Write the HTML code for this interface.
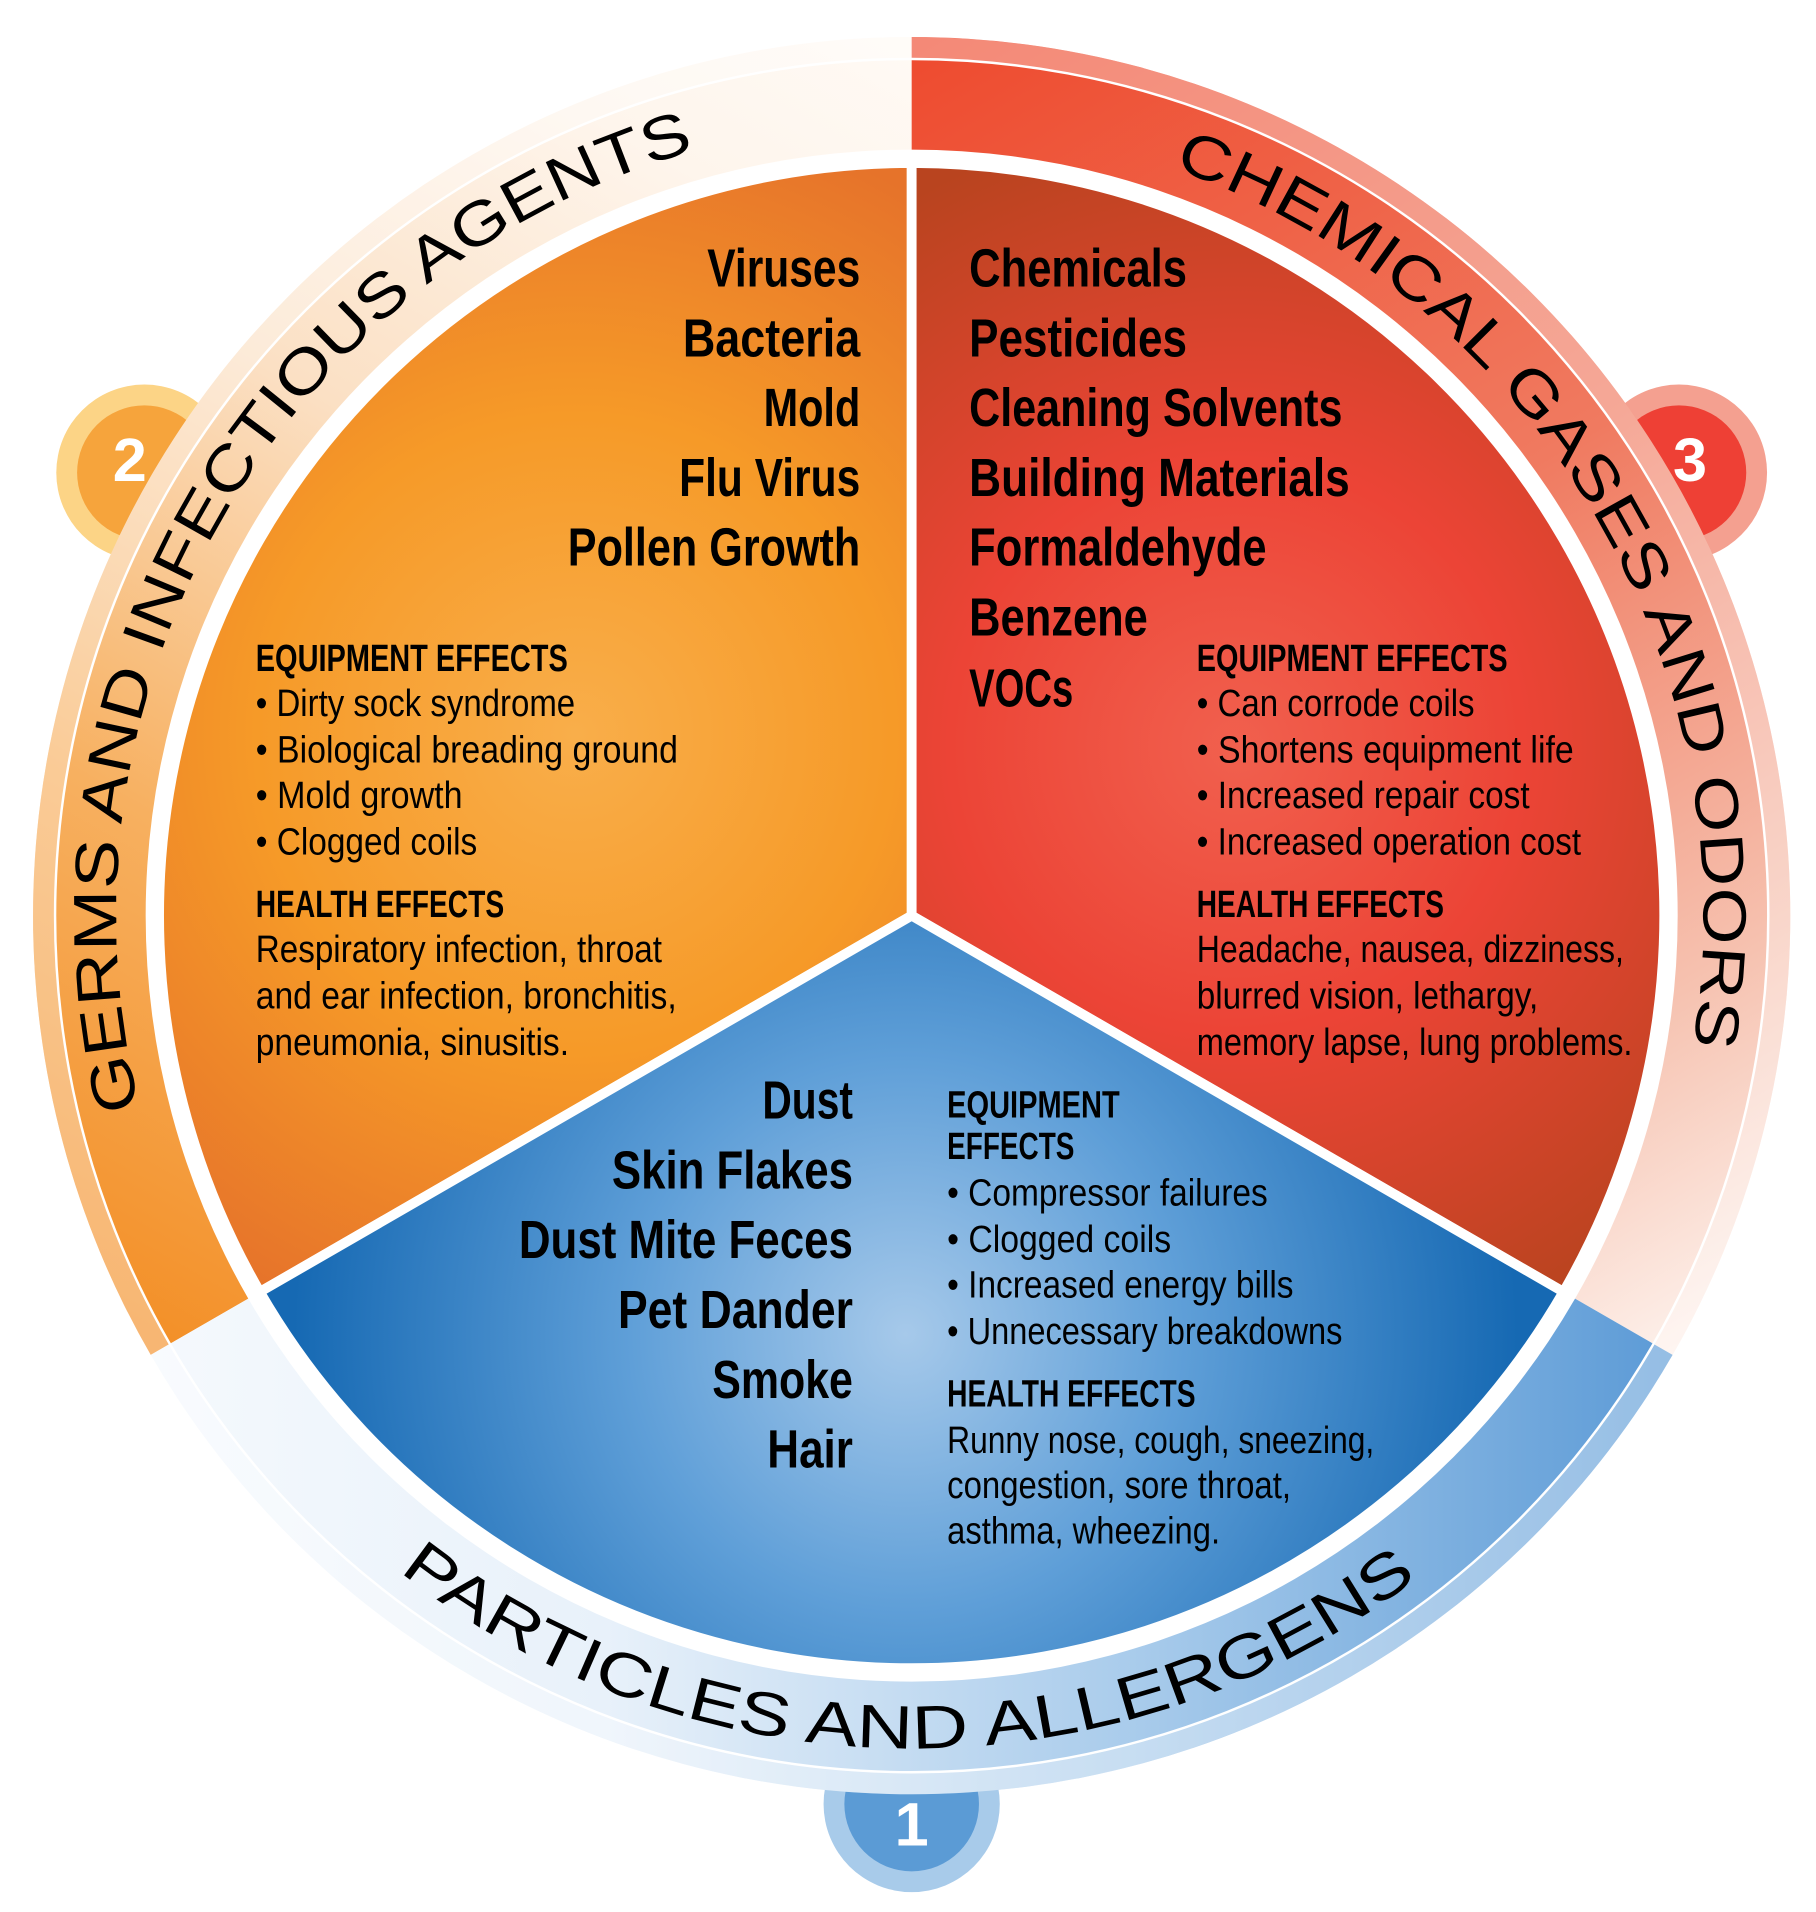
<!DOCTYPE html>
<html><head><meta charset="utf-8"><style>
html,body{margin:0;padding:0;background:#fff;}
svg{display:block;}
.b{font-family:"Liberation Sans Narrow","Liberation Sans",sans-serif;font-weight:bold;fill:#000;}
.r{font-family:"Liberation Sans Narrow","Liberation Sans",sans-serif;fill:#000;}
.ring{font-family:"Liberation Sans",sans-serif;font-size:50px;fill:#000;}
.num{font-family:"Liberation Sans",sans-serif;font-weight:bold;font-size:50px;fill:#fff;}
</style></head><body>
<svg width="1816" height="1912" viewBox="0 0 1484 1562" xmlns="http://www.w3.org/2000/svg">
<defs>
<radialGradient id="gO" gradientUnits="userSpaceOnUse" cx="470" cy="600" r="520">
<stop offset="0" stop-color="#f9ae4a"/><stop offset="0.5" stop-color="#f69a28"/><stop offset="1" stop-color="#e6732a"/></radialGradient>
<radialGradient id="gR" gradientUnits="userSpaceOnUse" cx="1010" cy="610" r="520">
<stop offset="0" stop-color="#f1604e"/><stop offset="0.45" stop-color="#ec4436"/><stop offset="1" stop-color="#b9441f"/></radialGradient>
<radialGradient id="gB" gradientUnits="userSpaceOnUse" cx="740" cy="1090" r="500">
<stop offset="0" stop-color="#a6c9ea"/><stop offset="0.45" stop-color="#5f9fd8"/><stop offset="1" stop-color="#1669b3"/></radialGradient>
<linearGradient id="lO" gradientUnits="userSpaceOnUse" x1="140" y1="1100" x2="745" y2="30">
<stop offset="0" stop-color="#f39028"/><stop offset="0.3" stop-color="#f7b060"/><stop offset="0.6" stop-color="#fbe0c4"/><stop offset="0.85" stop-color="#fef5ec"/><stop offset="1" stop-color="#fffaf5"/></linearGradient>
<linearGradient id="lR" gradientUnits="userSpaceOnUse" x1="745" y1="30" x2="1370" y2="1100">
<stop offset="0" stop-color="#ee4a2e"/><stop offset="0.45" stop-color="#f07a60"/><stop offset="0.8" stop-color="#f6c2b0"/><stop offset="1" stop-color="#fdf0ea"/></linearGradient>
<linearGradient id="lB" gradientUnits="userSpaceOnUse" x1="1370" y1="1100" x2="120" y2="1100">
<stop offset="0" stop-color="#5b9ad6"/><stop offset="0.35" stop-color="#a8cbeb"/><stop offset="0.7" stop-color="#e8f1fa"/><stop offset="1" stop-color="#f5f9fd"/></linearGradient>
<path id="pG" d="M 114.3 905.2 A 650 650 0 0 1 571.3 121.7"/>
<path id="pC" d="M 958.8 137.4 A 647 647 0 0 1 1382.8 857"/>
<path id="pP" d="M 326.3 1284 A 681 681 0 0 0 1159.6 1288.3"/>
</defs>

<circle cx="118" cy="386" r="72" fill="#fcd486"/><circle cx="118" cy="386" r="55" fill="#f6a43c"/>
<circle cx="1372" cy="386" r="72" fill="#f4a090"/><circle cx="1372" cy="386" r="55" fill="#ee4035"/>
<circle cx="745" cy="1474" r="72" fill="#a8cbea"/><circle cx="745" cy="1474" r="55" fill="#5b9bd5"/>

<path d="M 123.2 1107 A 718 718 0 0 1 745 30 L 745 122 A 626 626 0 0 0 202.9 1061 Z" fill="url(#lO)"/>
<path d="M 745 30 A 718 718 0 0 1 1366.8 1107 L 1287.1 1061 A 626 626 0 0 0 745 122 Z" fill="url(#lR)"/>
<path d="M 1366.8 1107 A 718 718 0 0 1 123.2 1107 L 202.9 1061 A 626 626 0 0 0 1287.1 1061 Z" fill="url(#lB)"/>
<circle cx="745" cy="748" r="709" fill="none" stroke="#fff" stroke-opacity="0.35" stroke-width="18"/>
<circle cx="745" cy="748" r="700" fill="none" stroke="#fff" stroke-width="2"/>

<text class="num" x="106" y="393" text-anchor="middle">2</text>
<text class="num" x="1381" y="393" text-anchor="middle">3</text>
<text class="num" x="745" y="1508" text-anchor="middle">1</text>

<path d="M 745 748 L 212.4 1055.5 A 615 615 0 0 1 745 133 Z" fill="url(#gO)" stroke="#fff" stroke-width="8" stroke-linejoin="round"/>
<path d="M 745 748 L 745 133 A 615 615 0 0 1 1277.6 1055.5 Z" fill="url(#gR)" stroke="#fff" stroke-width="8" stroke-linejoin="round"/>
<path d="M 745 748 L 1277.6 1055.5 A 615 615 0 0 1 212.4 1055.5 Z" fill="url(#gB)" stroke="#fff" stroke-width="8" stroke-linejoin="round"/>

<text class="ring"><textPath href="#pG" textLength="1000" lengthAdjust="spacingAndGlyphs">GERMS AND INFECTIOUS AGENTS</textPath></text>
<text class="ring"><textPath href="#pC" textLength="905" lengthAdjust="spacingAndGlyphs">CHEMICAL GASES AND ODORS</textPath></text>
<text class="ring"><textPath href="#pP" textLength="895" lengthAdjust="spacingAndGlyphs">PARTICLES AND ALLERGENS</textPath></text>

<g transform="translate(0,-3)">
<g class="b" font-size="44">
<text x="578" y="237" textLength="125" lengthAdjust="spacingAndGlyphs">Viruses</text>
<text x="558" y="294" textLength="145" lengthAdjust="spacingAndGlyphs">Bacteria</text>
<text x="624" y="351" textLength="79" lengthAdjust="spacingAndGlyphs">Mold</text>
<text x="555" y="408" textLength="148" lengthAdjust="spacingAndGlyphs">Flu Virus</text>
<text x="464" y="465" textLength="239" lengthAdjust="spacingAndGlyphs">Pollen Growth</text>
</g>
<g font-size="31">
<text class="b" x="209" y="551" textLength="255" lengthAdjust="spacingAndGlyphs">EQUIPMENT EFFECTS</text>
<text class="r" x="209" y="588" textLength="261" lengthAdjust="spacingAndGlyphs">• Dirty sock syndrome</text>
<text class="r" x="209" y="626" textLength="345" lengthAdjust="spacingAndGlyphs">• Biological breading ground</text>
<text class="r" x="209" y="663" textLength="169" lengthAdjust="spacingAndGlyphs">• Mold growth</text>
<text class="r" x="209" y="701" textLength="181" lengthAdjust="spacingAndGlyphs">• Clogged coils</text>
<text class="b" x="209" y="752" textLength="203" lengthAdjust="spacingAndGlyphs">HEALTH EFFECTS</text>
<text class="r" x="209" y="789" textLength="332" lengthAdjust="spacingAndGlyphs">Respiratory infection, throat</text>
<text class="r" x="209" y="827" textLength="344" lengthAdjust="spacingAndGlyphs">and ear infection, bronchitis,</text>
<text class="r" x="209" y="865" textLength="256" lengthAdjust="spacingAndGlyphs">pneumonia, sinusitis.</text>
</g>

<g class="b" font-size="44">
<text x="792" y="237" textLength="178" lengthAdjust="spacingAndGlyphs">Chemicals</text>
<text x="792" y="294" textLength="178" lengthAdjust="spacingAndGlyphs">Pesticides</text>
<text x="792" y="351" textLength="305" lengthAdjust="spacingAndGlyphs">Cleaning Solvents</text>
<text x="792" y="408" textLength="311" lengthAdjust="spacingAndGlyphs">Building Materials</text>
<text x="792" y="465" textLength="243" lengthAdjust="spacingAndGlyphs">Formaldehyde</text>
<text x="792" y="522" textLength="146" lengthAdjust="spacingAndGlyphs">Benzene</text>
<text x="792" y="580" textLength="85" lengthAdjust="spacingAndGlyphs">VOCs</text>
</g>
<g font-size="31">
<text class="b" x="978" y="551" textLength="254" lengthAdjust="spacingAndGlyphs">EQUIPMENT EFFECTS</text>
<text class="r" x="978" y="588" textLength="227" lengthAdjust="spacingAndGlyphs">• Can corrode coils</text>
<text class="r" x="978" y="626" textLength="308" lengthAdjust="spacingAndGlyphs">• Shortens equipment life</text>
<text class="r" x="978" y="663" textLength="272" lengthAdjust="spacingAndGlyphs">• Increased repair cost</text>
<text class="r" x="978" y="701" textLength="314" lengthAdjust="spacingAndGlyphs">• Increased operation cost</text>
<text class="b" x="978" y="752" textLength="202" lengthAdjust="spacingAndGlyphs">HEALTH EFFECTS</text>
<text class="r" x="978" y="789" textLength="349" lengthAdjust="spacingAndGlyphs">Headache, nausea, dizziness,</text>
<text class="r" x="978" y="827" textLength="279" lengthAdjust="spacingAndGlyphs">blurred vision, lethargy,</text>
<text class="r" x="978" y="865" textLength="356" lengthAdjust="spacingAndGlyphs">memory lapse, lung problems.</text>
</g>

<g class="b" font-size="44">
<text x="623" y="917" textLength="74" lengthAdjust="spacingAndGlyphs">Dust</text>
<text x="500" y="974" textLength="197" lengthAdjust="spacingAndGlyphs">Skin Flakes</text>
<text x="424" y="1031" textLength="273" lengthAdjust="spacingAndGlyphs">Dust Mite Feces</text>
<text x="505" y="1088" textLength="192" lengthAdjust="spacingAndGlyphs">Pet Dander</text>
<text x="582" y="1145" textLength="115" lengthAdjust="spacingAndGlyphs">Smoke</text>
<text x="627" y="1202" textLength="70" lengthAdjust="spacingAndGlyphs">Hair</text>
</g>
<g font-size="31">
<text class="b" x="774" y="916" textLength="141" lengthAdjust="spacingAndGlyphs">EQUIPMENT</text>
<text class="b" x="774" y="950" textLength="104" lengthAdjust="spacingAndGlyphs">EFFECTS</text>
<text class="r" x="774" y="988" textLength="262" lengthAdjust="spacingAndGlyphs">• Compressor failures</text>
<text class="r" x="774" y="1026" textLength="183" lengthAdjust="spacingAndGlyphs">• Clogged coils</text>
<text class="r" x="774" y="1063" textLength="283" lengthAdjust="spacingAndGlyphs">• Increased energy bills</text>
<text class="r" x="774" y="1101" textLength="323" lengthAdjust="spacingAndGlyphs">• Unnecessary breakdowns</text>
<text class="b" x="774" y="1152" textLength="203" lengthAdjust="spacingAndGlyphs">HEALTH EFFECTS</text>
<text class="r" x="774" y="1190" textLength="349" lengthAdjust="spacingAndGlyphs">Runny nose, cough, sneezing,</text>
<text class="r" x="774" y="1227" textLength="281" lengthAdjust="spacingAndGlyphs">congestion, sore throat,</text>
<text class="r" x="774" y="1264" textLength="223" lengthAdjust="spacingAndGlyphs">asthma, wheezing.</text>
</g>
</g>
</svg>
</body></html>
